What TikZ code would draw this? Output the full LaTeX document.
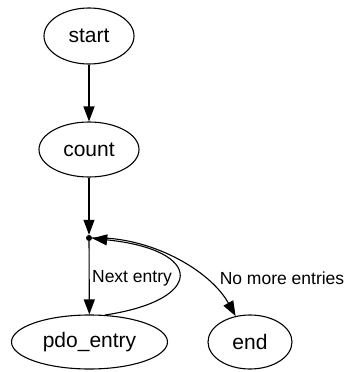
\documentclass[tikz,border=0pt]{standalone}
\usepackage{fontspec}
\setmainfont{Liberation Sans}
\usetikzlibrary{arrows.meta,shapes.geometric}
\begin{document}
\begin{tikzpicture}[x=1pt,y=-1pt,
  st/.style={draw,ellipse,line width=1.1pt,inner sep=0pt,font=\fontsize{21}{25}\selectfont},
  edge/.style={line width=1.1pt,-{Triangle[length=15pt,width=11pt]}},
  lbl/.style={font=\fontsize{17.5}{21}\selectfont,inner sep=0pt}]
\useasboundingbox (0,0) rectangle (352,372);
\node[st,minimum width=90pt,minimum height=56pt] (start) at (89,36) {start};
\node[st,minimum width=100pt,minimum height=55pt] (count) at (89,149.5) {count};
\node[circle,fill,inner sep=0pt,minimum size=6pt] (dot) at (89,238) {};
\node[st,minimum width=156pt,minimum height=54pt] (pdo) at (89.5,342) {pdo\_entry};
\node[st,minimum width=84pt,minimum height=54pt] (end) at (250,342) {end};
\draw[edge] (start) -- (count);
\draw[edge] (count) -- (dot);
\draw[edge] (dot) -- (pdo);
\draw[edge] (pdo.60) .. controls (205,300) and (205,250) .. (dot);
\draw[edge] (dot) .. controls (150,236) and (210,270) .. (end);
\node[lbl] (l1) at (132,278) {Next entry};
\node[lbl] (l2) at (282,278) {No more entries};
\end{tikzpicture}
\end{document}
